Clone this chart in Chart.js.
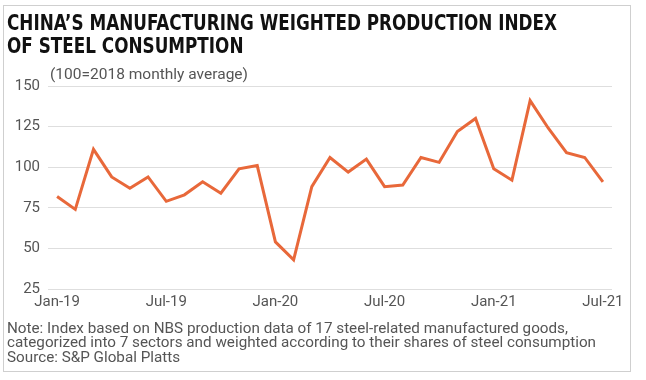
<!DOCTYPE html>
<html>
<head>
<meta charset="utf-8">
<script src="https://cdn.jsdelivr.net/npm/chart.js@4.4.1/dist/chart.umd.min.js"></script>
<style>
  html, body { margin:0; padding:0; background:#fff; }
  body { width:646px; height:380px; position:relative; overflow:hidden; }
  #frame { position:absolute; left:3px; top:5px; width:626px; height:365px; border:1px solid #cfcfcf; }
  canvas#c { position:absolute; left:0; top:0; }
  .t { position:absolute; white-space:nowrap; transform-origin:0 0; }
  .title { font-family:"Liberation Sans Narrow","DejaVu Sans Condensed","Roboto Condensed",sans-serif; font-weight:bold; font-size:22px; line-height:23px; color:#111; left:7px; }
  .note { font-family:Roboto,"Noto Sans",sans-serif; font-size:15px; line-height:15px; color:#555; left:7px; }
  .sub { font-family:Roboto,"Noto Sans",sans-serif; font-size:15px; line-height:15px; color:#555; left:50px; top:67px; }
</style>
</head>
<body>
<div id="frame"></div>
<canvas id="c" width="646" height="380"></canvas>
<div class="t title" id="t1" style="top:11px">CHINA’S MANUFACTURING WEIGHTED PRODUCTION INDEX</div>
<div class="t title" id="t2" style="top:34px">OF STEEL CONSUMPTION</div>
<div class="t sub" id="sub">(100=2018 monthly average)</div>
<div class="t note" id="n1" style="top:321px">Note: Index based on NBS production data of 17 steel-related manufactured goods,</div>
<div class="t note" id="n2" style="top:335px">categorized into 7 sectors and weighted according to their shares of steel consumption</div>
<div class="t note" id="n3" style="top:350px">Source: S&amp;P Global Platts</div>
<script>
const categories = ["Jan-19","Feb-19","Mar-19","Apr-19","May-19","Jun-19","Jul-19","Aug-19","Sep-19","Oct-19","Nov-19","Dec-19",
  "Jan-20","Feb-20","Mar-20","Apr-20","May-20","Jun-20","Jul-20","Aug-20","Sep-20","Oct-20","Nov-20","Dec-20",
  "Jan-21","Feb-21","Mar-21","Apr-21","May-21","Jun-21","Jul-21"];
const indexValues = [82,74,111,94,87,94,79,83,91,84,99,101,
  54,43,88,106,97,105,88,89,106,103,122,130,
  99,92,141,124,109,106,91];
const xTickLabels = ["Jan-19","Jul-19","Jan-20","Jul-20","Jan-21","Jul-21"];
const yTicks = [25,50,75,100,125,150];

function fit(id, w, scaleFrom) {
  const el = document.getElementById(id);
  let s;
  if (scaleFrom !== undefined) s = scaleFrom;
  else s = w / el.getBoundingClientRect().width;
  el.style.transform = 'scaleX(' + s + ')';
  return s;
}
const ts = fit('t1', 550); fit('t2', 0, ts);
const ns = fit('n2', 589); fit('n1', 0, ns); fit('n3', 0, ns);
fit('sub', 198);

const tickFont = { family: 'Roboto', size: 15 };
new Chart(document.getElementById('c'), {
  type: 'line',
  data: {
    labels: categories,
    datasets: [{
      data: indexValues,
      borderColor: '#E8683A',
      borderWidth: 3,
      pointRadius: 0,
      tension: 0,
      fill: false
    }]
  },
  options: {
    responsive: false,
    animation: false,
    events: [],
    layout: { padding: { left: 0, top: 86, right: 34, bottom: 0 } },
    plugins: { legend: { display: false }, tooltip: { enabled: false } },
    scales: {
      x: {
        type: 'category',
        offset: true,
        grid: { display: false, drawTicks: false },
        border: { display: false },
        ticks: {
          autoSkip: false, maxRotation: 0, padding: 4,
          color: '#555', font: tickFont,
          callback: function(v, i) { const l = categories[i]; return xTickLabels.includes(l) ? l : ''; }
        },
        afterFit: s => { s.height = 91; }
      },
      y: {
        min: 25, max: 150,
        afterBuildTicks: s => { s.ticks = yTicks.map(v => ({ value: v })); },
        grid: { color: '#dedede', lineWidth: 1, drawTicks: false },
        border: { display: false },
        ticks: { padding: 8, color: '#555', font: tickFont },
        afterFit: s => { s.width = 48; }
      }
    }
  }
});
</script>
</body>
</html>
